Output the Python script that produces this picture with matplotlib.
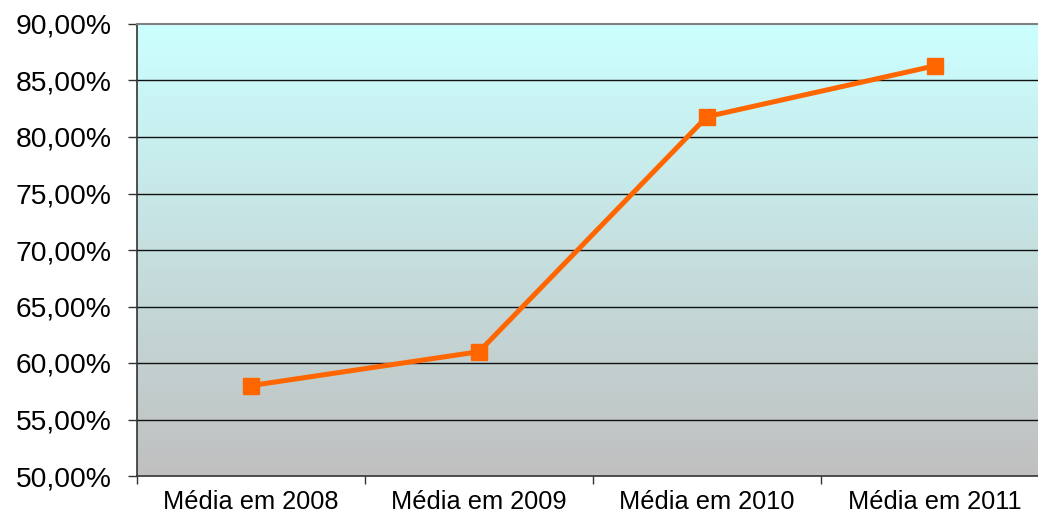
import matplotlib
matplotlib.use("Agg")
import matplotlib.pyplot as plt
import numpy as np
from matplotlib.colors import LinearSegmentedColormap

categories = ["Média em 2008", "Média em 2009", "Média em 2010", "Média em 2011"]
values = [58.0, 61.0, 81.8, 86.3]
yticks = [50, 55, 60, 65, 70, 75, 80, 85, 90]
ytick_labels = ["50,00%", "55,00%", "60,00%", "65,00%", "70,00%", "75,00%", "80,00%", "85,00%", "90,00%"]

plt.rcParams['font.family'] = ['Liberation Sans', 'DejaVu Sans']

W, H = 1038, 516
fig = plt.figure(figsize=(W/100, H/100), dpi=100)
ax = fig.add_axes([137/W, 1 - 476/H, (1049-137)/W, (476-24)/H])

ax.set_xlim(0, len(categories))
ax.set_ylim(50, 90)

cmap = LinearSegmentedColormap.from_list("bg", ["#C0C0C0", "#CCFFFF"])
grad = np.linspace(0, 1, 256).reshape(-1, 1)
ax.imshow(grad, cmap=cmap, origin="lower", aspect="auto",
          extent=[0, len(categories), 50, 90], zorder=0)

for y in yticks[1:-1]:
    ax.axhline(y, color="#111111", lw=1.0, zorder=1)

x = np.arange(len(categories)) + 0.5
ax.plot(x, values, color="#FF6600", lw=3.6, marker="s", markersize=11,
        markeredgecolor="#FF6600", zorder=3, clip_on=False)

ax.set_yticks(yticks)
ax.set_yticklabels(ytick_labels, fontsize=20.3)
ax.set_xticks(x)
ax.set_xticklabels(categories, fontsize=18.3)
ax.set_xticks(np.arange(len(categories) + 1), minor=True)
ax.tick_params(axis="x", which="major", length=0, pad=10)
ax.tick_params(axis="x", which="minor", length=6, color="#333333", width=1)
ax.tick_params(axis="y", length=6.5, color="#333333", width=1, pad=12)

for s in ["left", "bottom"]:
    ax.spines[s].set_color("#333333")
    ax.spines[s].set_linewidth(1.2)
ax.spines["top"].set_color("#808080")
ax.spines["top"].set_linewidth(1.5)
ax.spines["right"].set_visible(False)

fig.savefig("out.png", dpi=100)
